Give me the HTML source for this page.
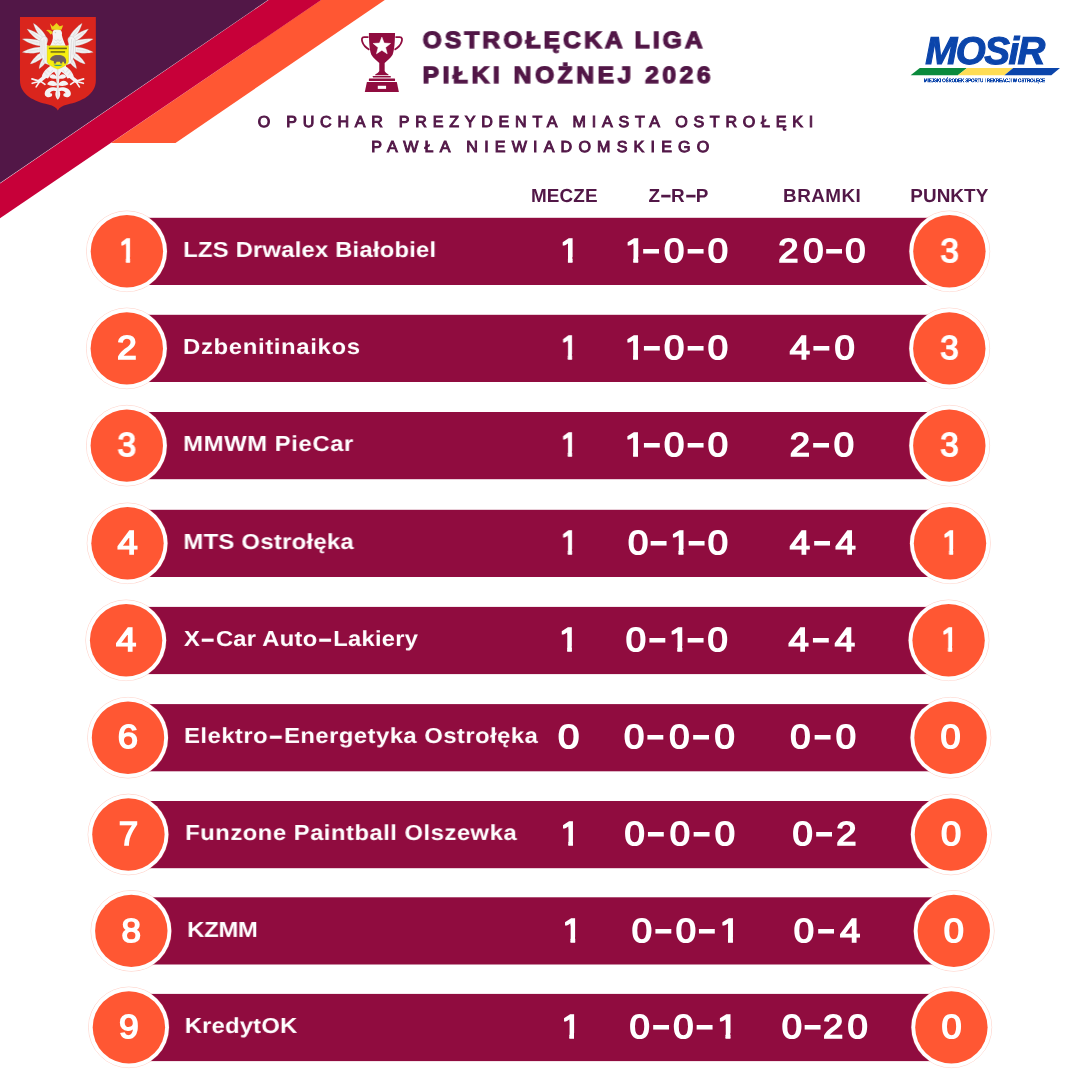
<!DOCTYPE html>
<html lang="pl">
<head>
<meta charset="utf-8">
<title>Ostrołęcka Liga Piłki Nożnej 2026 – tabela</title>
<style>
*{box-sizing:border-box;margin:0;padding:0}
html,body{width:1080px;height:1080px;background:#fff;overflow:hidden}
#page{position:relative;width:1080px;height:1080px;overflow:hidden;background:#fff;font-family:"Liberation Sans",sans-serif}
.corner{position:absolute;left:0;top:0;width:400px;height:230px}
.crest{position:absolute;left:10px;top:10px;width:100px;height:110px}
.trophy{position:absolute;left:350px;top:20px;width:70px;height:80px}
.stripe{position:absolute;left:905px;top:66px;width:160px;height:12px}
.t{position:absolute;white-space:nowrap;line-height:1;font-weight:700;color:#fff;transform-origin:0 0;will-change:transform;text-rendering:geometricPrecision}
.title,.sub,.hdr{color:#521747}
.title{-webkit-text-stroke:1.25px #521747}
.sub{font-weight:400;-webkit-text-stroke:.95px #521747}
.logo{color:#0B45AB;font-style:italic;-webkit-text-stroke:1.1px #0B45AB}
.small{font-style:normal;-webkit-text-stroke:1.1px #0B45AB}
.num,.rank,.pts{font-weight:400;-webkit-text-stroke:1.5px #fff}
.one{display:inline-block;margin-right:-.13em;clip-path:polygon(0 0,2em 0,2em .66em,.364em .66em,.364em 1.2em,.229em 1.2em,.229em .315em,0 .315em)}
.hy{display:inline-block;margin:0 .16em;transform:translateY(-.03em) scale(1.95,1.2)}
.d{display:inline-block;transform:translate(.02em,-.06em) scale(1.5,1.1)}
.rowbg{position:absolute;left:80px;width:920px;height:90px}
.bar{fill:#900C3F}
.halo{fill:none;stroke:#FF5733;stroke-width:.6;opacity:.4}
.ring{fill:#fff}
.disc{fill:#FF5733}
</style>
</head>
<body>
<div id="page">
<svg class="corner" viewBox="0 0 400 230" aria-hidden="true">
<polygon points="321,0 384.8,0 175.5,143 111,143" fill="#FF5733"/>
<polygon points="268.55,0 321.2,0 0,218.3 0,183.4" fill="#C70039"/>
<polygon points="0,0 268,0 0,183" fill="#521747"/>
</svg>
<svg class="crest" viewBox="10 10 100 110" aria-label="Herb Ostrołęki">
<path transform="translate(10 10) scale(.101833)" d="M98,68 H843 V690 C843,835 700,898 565,928 C512,940 482,962 470,986 C458,962 428,940 375,928 C240,898 98,835 98,690 Z" fill="#DA251D"/>
<g transform="translate(18 18) scale(.074074)">
<g fill="#F4F4F4">
<g stroke="#A8A8A8" stroke-width="3.5" stroke-linejoin="round"><path d="M378.5,255.3 C348.2,184.9 260.3,101.4 208.0,72.0 C220.9,130.6 275.0,239.1 333.5,288.7 Z"/><path d="M350.8,276.6 C297.7,216.4 183.3,161.0 122.0,148.0 C154.0,201.9 243.1,292.4 317.2,323.4 Z"/><path d="M325.1,319.3 C251.5,282.1 121.4,272.9 58.0,284.0 C109.0,323.2 228.5,375.5 310.9,376.7 Z"/><path d="M313.4,392.8 C232.5,386.8 111.2,428.4 58.0,463.0 C119.2,479.6 247.5,481.8 322.6,451.2 Z"/><path d="M320.8,463.9 C258.4,490.3 188.8,571.2 166.0,620.0 C218.9,609.8 314.4,562.1 355.2,508.1 Z"/><path d="M355.1,526.6 C314.4,561.5 286.0,640.6 284.0,684.0 C322.5,664.0 382.4,604.9 396.9,553.4 Z"/><path d="M402,300 C404,262 372,240 338,254 C298,272 288,322 298,380 L296,470 L356,610 L440,640 L440,380 L395,372 C380,350 400,330 402,300 Z"/></g>
<g stroke="#A8A8A8" stroke-width="3.5" stroke-linejoin="round" transform="translate(1074,0) scale(-1,1)"><path d="M378.5,255.3 C348.2,184.9 260.3,101.4 208.0,72.0 C220.9,130.6 275.0,239.1 333.5,288.7 Z"/><path d="M350.8,276.6 C297.7,216.4 183.3,161.0 122.0,148.0 C154.0,201.9 243.1,292.4 317.2,323.4 Z"/><path d="M325.1,319.3 C251.5,282.1 121.4,272.9 58.0,284.0 C109.0,323.2 228.5,375.5 310.9,376.7 Z"/><path d="M313.4,392.8 C232.5,386.8 111.2,428.4 58.0,463.0 C119.2,479.6 247.5,481.8 322.6,451.2 Z"/><path d="M320.8,463.9 C258.4,490.3 188.8,571.2 166.0,620.0 C218.9,609.8 314.4,562.1 355.2,508.1 Z"/><path d="M355.1,526.6 C314.4,561.5 286.0,640.6 284.0,684.0 C322.5,664.0 382.4,604.9 396.9,553.4 Z"/><path d="M402,300 C404,262 372,240 338,254 C298,272 288,322 298,380 L296,470 L356,610 L440,640 L440,380 L395,372 C380,350 400,330 402,300 Z"/></g>
<path d="M470,238 C452,190 478,148 526,148 C578,148 604,186 592,228 C600,272 622,322 648,382 L648,690 L428,690 L428,382 C455,332 478,284 470,238 Z"/>
<g stroke="#F4F4F4" fill="none"><path d="M452,648 C400,662 338,720 320,792 L406,818 C432,762 482,722 532,702 Z" fill="#F4F4F4" stroke="none"/><path d="M364,792 L288,852" stroke-width="50" stroke-linecap="round"/><path d="M288,852 L188,822 M284,858 L192,882 M290,860 L245,930 M302,852 L364,896" stroke-width="22" stroke-linecap="round"/></g>
<g stroke="#F4F4F4" fill="none" transform="translate(1074,0) scale(-1,1)"><path d="M452,648 C400,662 338,720 320,792 L406,818 C432,762 482,722 532,702 Z" fill="#F4F4F4" stroke="none"/><path d="M364,792 L288,852" stroke-width="50" stroke-linecap="round"/><path d="M288,852 L188,822 M284,858 L192,882 M290,860 L245,930 M302,852 L364,896" stroke-width="22" stroke-linecap="round"/></g>
<path d="M537,680 C566,740 562,810 552,880 C548,940 562,1040 537,1098 C512,1040 526,940 522,880 C512,810 508,740 537,680 Z"/>
<path d="M537,952 C584,998 578,1064 537,1104 C496,1064 490,998 537,952 Z"/><path d="M440,640 H634 L566,760 L537,800 L508,760 Z"/>
<g><path d="M537,812 C500,742 438,745 424,796 C460,828 510,826 537,812 Z"/><path d="M537,906 C490,822 414,840 394,896 C445,928 500,922 537,906 Z"/><path d="M528,944 C468,924 378,944 362,1008 C350,1058 408,1086 448,1060 C476,1042 458,1006 432,1016 C440,982 482,972 528,992 Z"/></g>
<g transform="translate(1074,0) scale(-1,1)"><path d="M537,812 C500,742 438,745 424,796 C460,828 510,826 537,812 Z"/><path d="M537,906 C490,822 414,840 394,896 C445,928 500,922 537,906 Z"/><path d="M528,944 C468,924 378,944 362,1008 C350,1058 408,1086 448,1060 C476,1042 458,1006 432,1016 C440,982 482,972 528,992 Z"/></g>
</g>
<g stroke="#8E8E8E" stroke-width="4.5" fill="none" opacity=".7">
<g><path d="M334,242 L249,128"/><path d="M302,277 L181,191"/><path d="M279,338 L131,302"/><path d="M279,428 L131,452"/><path d="M312,506 L214,582"/><path d="M362,562 L310,644"/><path d="M318,300 L330,500 M350,285 L366,560 M372,262 C392,270 396,300 384,322"/><path d="M352,720 L395,770 M380,690 L425,735"/></g>
<g transform="translate(1074,0) scale(-1,1)"><path d="M334,242 L249,128"/><path d="M302,277 L181,191"/><path d="M279,338 L131,302"/><path d="M279,428 L131,452"/><path d="M312,506 L214,582"/><path d="M362,562 L310,644"/><path d="M318,300 L330,500 M350,285 L366,560 M372,262 C392,270 396,300 384,322"/><path d="M352,720 L395,770 M380,690 L425,735"/></g>
<path d="M490,290 l24,20 l24,-20 l24,20 l24,-20 M478,330 l30,22 l30,-22 l30,22 l30,-22 M537,700 V1085 M470,700 L440,740 M604,700 L634,740"/>
<circle cx="505" cy="196" r="5" fill="#8E8E8E"/>
</g>
<path d="M430,72 L470,116 L520,68 L562,112 L610,100 L586,160 L456,160 Z" fill="#EBD51C"/>
<path d="M468,190 C440,160 405,150 378,165 C405,176 425,196 440,224 C455,218 465,205 468,190 Z" fill="#EBD51C"/>
<path d="M393,376 H682 V588 C682,625 610,660 537,692 C464,660 393,625 393,588 Z" fill="#F8EE0E" stroke="#BDB31B" stroke-width="5"/>
<rect x="416" y="400" width="244" height="21" fill="#4F4A1C" opacity=".85"/>
<rect x="440" y="448" width="196" height="20" fill="#4F4A1C" opacity=".85"/>
<path d="M432,560 C440,525 480,500 530,500 C590,495 645,520 650,570 L648,616 L625,616 L618,590 L600,590 L596,616 L572,616 L566,592 L520,592 L512,616 L485,616 L482,580 C465,574 445,574 432,560 Z" fill="#6F5F5E"/>
<path d="M478,632 H602 C588,656 492,656 478,632 Z" fill="#2E9A86"/>
</g>
</svg>
<header>
<svg class="trophy" viewBox="0 0 945 1080" aria-label="puchar">
<g fill="#900C3F">
<path d="M255,175 H608 C606,300 600,400 575,470 C550,520 490,555 468,582 V690 C475,712 500,722 520,735 V746 H340 V735 C360,722 388,712 395,690 V582 C373,555 313,520 288,470 C263,400 257,300 255,175 Z"/>
<rect x="310" y="755" width="240" height="21" rx="3"/>
<rect x="255" y="790" width="353" height="35" rx="5"/>
<path d="M228,838 H632 L660,972 H200 Z"/>
</g>
<g fill="none" stroke="#900C3F" stroke-width="24">
<path d="M250,230 H190 C158,230 156,262 166,295 C180,342 218,378 262,402"/>
<path d="M613,230 H673 C705,230 707,262 697,295 C683,342 645,378 601,402"/>
</g>
<path d="M430,232 L461,312 L547,317 L480,371 L502,455 L430,408 L358,455 L380,371 L313,317 L399,312 Z" fill="#fff" stroke="#fff" stroke-width="8" stroke-linejoin="round"/>
<rect x="375" y="888" width="112" height="42" fill="#fff"/>
</svg>
<div class="t title" style="left:422px;top:29.01px;font-size:23.47px;letter-spacing:2.91px;transform:translateX(0.65px) scale(1.050,0.992);">OSTROŁĘCKA LIGA</div>
<div class="t title" style="left:422px;top:64.06px;font-size:23.47px;letter-spacing:3.37px;transform:translateX(0.58px) scale(1.050,0.992);">PIŁKI NOŻNEJ 2026</div>
<div class="t sub" style="left:257px;top:115.03px;font-size:15.77px;letter-spacing:5.64px;transform:translateX(0.7px) scale(1.020,1.005);">O PUCHAR PREZYDENTA MIASTA OSTROŁĘKI</div>
<div class="t sub" style="left:371px;top:139.96px;font-size:15.77px;letter-spacing:6.06px;transform:translateX(0.17px) scale(1.020,1.005);">PAWŁA NIEWIADOMSKIEGO</div>
<div class="mosir">
<div class="t logo" style="left:925px;top:32.95px;font-size:38.52px;letter-spacing:-1.54px;transform:translateX(0.32px) scale(1.000,1.004);">MOSiR</div>
<div class="t logo small" style="left:923px;top:77.86px;font-size:21.51px;letter-spacing:-0.61px;transform:translateX(0.92px) scale(0.210,0.250);">MIEJSKI OŚRODEK SPORTU I REKREACJI W OSTROŁĘCE</div>
<svg class="stripe" viewBox="905 66 160 12" aria-hidden="true">
<polygon points="910.6,75.3 919.8,68 967,68 957.8,75.3" fill="#0A8A3C"/>
<polygon points="957.8,75.3 967,68 1013.2,68 1004.4,75.3" fill="#FFDD55"/>
<polygon points="1004.4,75.3 1013.2,68 1060,68 1051.3,75.3" fill="#0B45AB"/>
</svg>
</div>
</header>
<main>
<div class="thead">
<div class="t hdr" style="left:530px;top:187.96px;font-size:18.9px;letter-spacing:0.12px;transform:translateX(0.94px) scale(1.000,1.000);">MECZE</div>
<div class="t hdr" style="left:648px;top:187.96px;font-size:18.9px;letter-spacing:-0.61px;transform:translateX(0.43px) scale(1.000,1.000);">Z<span class="hy">-</span>R<span class="hy">-</span>P</div>
<div class="t hdr" style="left:783px;top:187.96px;font-size:18.9px;letter-spacing:0.43px;transform:translateX(0.1px) scale(1.000,1.000);">BRAMKI</div>
<div class="t hdr" style="left:910px;top:187.96px;font-size:18.9px;letter-spacing:0.07px;transform:translateX(0.26px) scale(1.000,1.000);">PUNKTY</div>
</div>
<section class="row">
<svg class="rowbg" style="top:206px" viewBox="80 206 920 90" aria-hidden="true"><rect class="bar" x="126.9" y="217.8" width="822.5" height="67.2"/><circle class="halo" cx="126.9" cy="251.3" r="40.3"/><circle class="ring" cx="126.9" cy="251.3" r="40.1"/><circle class="disc" cx="126.9" cy="251.3" r="36.2"/><circle class="halo" cx="949.4" cy="251.3" r="40.3"/><circle class="ring" cx="949.4" cy="251.3" r="40.1"/><circle class="disc" cx="949.4" cy="251.3" r="36.2"/></svg>
<div class="t rank" style="left:119px;top:235.03px;font-size:33.43px;transform:translateX(0.17px) scale(0.886,1.001);"><span class="one">1</span></div>
<div class="t name" style="left:183px;top:239.06px;font-size:21.66px;letter-spacing:0.18px;transform:translateX(0.19px) scale(1.100,0.993);">LZS Drwalex Białobiel</div>
<div class="t num" style="left:560px;top:235.03px;font-size:33.43px;transform:translateX(0.16px) scale(1.016,1.001);"><span class="one">1</span></div>
<div class="t num" style="left:624px;top:235.03px;font-size:33.43px;letter-spacing:5.24px;transform:translateX(0.93px) scale(1.090,1.001);"><span class="one">1</span><span class="d">-</span>0<span class="d">-</span>0</div>
<div class="t num" style="left:778px;top:235.03px;font-size:33.43px;letter-spacing:4.37px;transform:translateX(0.24px) scale(1.090,1.001);">20<span class="d">-</span>0</div>
<div class="t pts" style="left:940px;top:235.03px;font-size:33.43px;transform:translateX(0.45px) scale(0.989,1.001);">3</div>
</section>
<section class="row">
<svg class="rowbg" style="top:303px" viewBox="80 303 920 90" aria-hidden="true"><rect class="bar" x="126.8" y="314.8" width="822.5" height="67.2"/><circle class="halo" cx="126.8" cy="348.4" r="40.3"/><circle class="ring" cx="126.8" cy="348.4" r="40.1"/><circle class="disc" cx="126.8" cy="348.4" r="36.2"/><circle class="halo" cx="949.3" cy="348.4" r="40.3"/><circle class="ring" cx="949.3" cy="348.4" r="40.1"/><circle class="disc" cx="949.3" cy="348.4" r="36.2"/></svg>
<div class="t rank" style="left:116px;top:332.01px;font-size:33.43px;transform:translateX(0.95px) scale(1.063,1.001);">2</div>
<div class="t name" style="left:183px;top:336.03px;font-size:21.66px;letter-spacing:0.62px;transform:translateX(0.02px) scale(1.100,0.993);">Dzbenitinaikos</div>
<div class="t num" style="left:560px;top:332.01px;font-size:33.43px;transform:translateX(0.81px) scale(0.919,1.001);"><span class="one">1</span></div>
<div class="t num" style="left:624px;top:332.01px;font-size:33.43px;letter-spacing:5.25px;transform:translateX(0.77px) scale(1.090,1.001);"><span class="one">1</span><span class="d">-</span>0<span class="d">-</span>0</div>
<div class="t num" style="left:789px;top:332.01px;font-size:33.43px;letter-spacing:5.64px;transform:translateX(0.82px) scale(1.090,1.001);">4<span class="d">-</span>0</div>
<div class="t pts" style="left:940px;top:332.01px;font-size:33.43px;transform:translateX(0.3px) scale(0.988,1.001);">3</div>
</section>
<section class="row">
<svg class="rowbg" style="top:400px" viewBox="80 400 920 90" aria-hidden="true"><rect class="bar" x="126.8" y="412" width="822.5" height="67.2"/><circle class="halo" cx="126.8" cy="445.65" r="40.3"/><circle class="ring" cx="126.8" cy="445.65" r="40.1"/><circle class="disc" cx="126.8" cy="445.65" r="36.2"/><circle class="halo" cx="949.3" cy="445.65" r="40.3"/><circle class="ring" cx="949.3" cy="445.65" r="40.1"/><circle class="disc" cx="949.3" cy="445.65" r="36.2"/></svg>
<div class="t rank" style="left:117px;top:429.01px;font-size:33.43px;transform:translateX(0.52px) scale(0.999,1.001);">3</div>
<div class="t name" style="left:183px;top:433.03px;font-size:21.66px;letter-spacing:0.54px;transform:translateX(0.19px) scale(1.100,0.993);">MMWM PieCar</div>
<div class="t num" style="left:560px;top:429.01px;font-size:33.43px;transform:translateX(0.81px) scale(0.919,1.001);"><span class="one">1</span></div>
<div class="t num" style="left:624px;top:429.01px;font-size:33.43px;letter-spacing:5.25px;transform:translateX(0.77px) scale(1.090,1.001);"><span class="one">1</span><span class="d">-</span>0<span class="d">-</span>0</div>
<div class="t num" style="left:789px;top:429.01px;font-size:33.43px;letter-spacing:5.39px;transform:translateX(0.69px) scale(1.090,1.001);">2<span class="d">-</span>0</div>
<div class="t pts" style="left:940px;top:429.01px;font-size:33.43px;transform:translateX(0.3px) scale(0.988,1.001);">3</div>
</section>
<section class="row">
<svg class="rowbg" style="top:498px" viewBox="80 498 920 90" aria-hidden="true"><rect class="bar" x="127.5" y="509.8" width="822.5" height="67.2"/><circle class="halo" cx="127.5" cy="543.3" r="40.3"/><circle class="ring" cx="127.5" cy="543.3" r="40.1"/><circle class="disc" cx="127.5" cy="543.3" r="36.2"/><circle class="halo" cx="950" cy="543.3" r="40.3"/><circle class="ring" cx="950" cy="543.3" r="40.1"/><circle class="disc" cx="950" cy="543.3" r="36.2"/></svg>
<div class="t rank" style="left:117px;top:527.03px;font-size:33.43px;transform:translateX(0.44px) scale(1.089,1.001);">4</div>
<div class="t name" style="left:183px;top:531.06px;font-size:21.66px;letter-spacing:0.27px;transform:translateX(0.43px) scale(1.100,0.993);">MTS Ostrołęka</div>
<div class="t num" style="left:560px;top:527.03px;font-size:33.43px;transform:translateX(0.81px) scale(0.919,1.001);"><span class="one">1</span></div>
<div class="t num" style="left:627px;top:527.03px;font-size:33.43px;letter-spacing:4.53px;transform:translateX(0.89px) scale(1.090,1.001);">0<span class="d">-</span><span class="one">1</span><span class="d">-</span>0</div>
<div class="t num" style="left:789px;top:527.03px;font-size:33.43px;letter-spacing:6.08px;transform:translateX(0.82px) scale(1.090,1.001);">4<span class="d">-</span>4</div>
<div class="t pts" style="left:942px;top:527.03px;font-size:33.43px;transform:translateX(0.29px) scale(0.890,1.001);"><span class="one">1</span></div>
</section>
<section class="row">
<svg class="rowbg" style="top:595px" viewBox="80 595 920 90" aria-hidden="true"><rect class="bar" x="126.1" y="606.9" width="822.5" height="67.2"/><circle class="halo" cx="126.1" cy="640.3" r="40.3"/><circle class="ring" cx="126.1" cy="640.3" r="40.1"/><circle class="disc" cx="126.1" cy="640.3" r="36.2"/><circle class="halo" cx="948.6" cy="640.3" r="40.3"/><circle class="ring" cx="948.6" cy="640.3" r="40.1"/><circle class="disc" cx="948.6" cy="640.3" r="36.2"/></svg>
<div class="t rank" style="left:116px;top:624.03px;font-size:33.43px;transform:translateX(0.12px) scale(1.093,1.001);">4</div>
<div class="t name" style="left:183px;top:628.06px;font-size:21.66px;letter-spacing:0.21px;transform:translateX(0.92px) scale(1.100,0.993);">X<span class="hy">-</span>Car Auto<span class="hy">-</span>Lakiery</div>
<div class="t num" style="left:559px;top:624.03px;font-size:33.43px;transform:translateX(0.27px) scale(1.035,1.001);"><span class="one">1</span></div>
<div class="t num" style="left:625px;top:624.03px;font-size:33.43px;letter-spacing:4.93px;transform:translateX(0.83px) scale(1.090,1.001);">0<span class="d">-</span><span class="one">1</span><span class="d">-</span>0</div>
<div class="t num" style="left:788px;top:624.03px;font-size:33.43px;letter-spacing:6.3px;transform:translateX(0.54px) scale(1.090,1.001);">4<span class="d">-</span>4</div>
<div class="t pts" style="left:941px;top:624.03px;font-size:33.43px;transform:translateX(0.13px) scale(0.903,1.001);"><span class="one">1</span></div>
</section>
<section class="row">
<svg class="rowbg" style="top:692px" viewBox="80 692 920 90" aria-hidden="true"><rect class="bar" x="128" y="704.1" width="822.5" height="67.2"/><circle class="halo" cx="128" cy="737.7" r="40.3"/><circle class="ring" cx="128" cy="737.7" r="40.1"/><circle class="disc" cx="128" cy="737.7" r="36.2"/><circle class="halo" cx="950.5" cy="737.7" r="40.3"/><circle class="ring" cx="950.5" cy="737.7" r="40.1"/><circle class="disc" cx="950.5" cy="737.7" r="36.2"/></svg>
<div class="t rank" style="left:117px;top:720.93px;font-size:33.43px;transform:translateX(0.69px) scale(1.088,1.001);">6</div>
<div class="t name" style="left:184px;top:724.96px;font-size:21.66px;letter-spacing:0.42px;transform:translateX(0.12px) scale(1.100,0.993);">Elektro<span class="hy">-</span>Energetyka Ostrołęka</div>
<div class="t num" style="left:558px;top:720.93px;font-size:33.43px;transform:translateX(0px) scale(1.148,1.001);">0</div>
<div class="t num" style="left:623px;top:720.93px;font-size:33.43px;letter-spacing:5.89px;transform:translateX(0.89px) scale(1.090,1.001);">0<span class="d">-</span>0<span class="d">-</span>0</div>
<div class="t num" style="left:790px;top:720.93px;font-size:33.43px;letter-spacing:6.08px;transform:translateX(0.19px) scale(1.090,1.001);">0<span class="d">-</span>0</div>
<div class="t pts" style="left:940px;top:720.93px;font-size:33.43px;transform:translateX(0.39px) scale(1.083,1.001);">0</div>
</section>
<section class="row">
<svg class="rowbg" style="top:789px" viewBox="80 789 920 90" aria-hidden="true"><rect class="bar" x="128.4" y="801" width="822.5" height="67.2"/><circle class="halo" cx="128.4" cy="834.5" r="40.3"/><circle class="ring" cx="128.4" cy="834.5" r="40.1"/><circle class="disc" cx="128.4" cy="834.5" r="36.2"/><circle class="halo" cx="950.9" cy="834.5" r="40.3"/><circle class="ring" cx="950.9" cy="834.5" r="40.1"/><circle class="disc" cx="950.9" cy="834.5" r="36.2"/></svg>
<div class="t rank" style="left:118px;top:817.98px;font-size:33.43px;transform:translateX(0.8px) scale(1.044,1.001);">7</div>
<div class="t name" style="left:185px;top:822.01px;font-size:21.66px;letter-spacing:0.45px;transform:translateX(0.19px) scale(1.100,0.993);">Funzone Paintball Olszewka</div>
<div class="t num" style="left:560px;top:817.98px;font-size:33.43px;transform:translateX(0.47px) scale(1.026,1.001);"><span class="one">1</span></div>
<div class="t num" style="left:624px;top:817.98px;font-size:33.43px;letter-spacing:5.82px;transform:translateX(0.56px) scale(1.090,1.001);">0<span class="d">-</span>0<span class="d">-</span>0</div>
<div class="t num" style="left:792px;top:817.98px;font-size:33.43px;letter-spacing:5.2px;transform:translateX(0.56px) scale(1.090,1.001);">0<span class="d">-</span>2</div>
<div class="t pts" style="left:940px;top:817.98px;font-size:33.43px;transform:translateX(0.92px) scale(1.086,1.001);">0</div>
</section>
<section class="row">
<svg class="rowbg" style="top:885px" viewBox="80 885 920 90" aria-hidden="true"><rect class="bar" x="131.3" y="897.3" width="822.5" height="67.2"/><circle class="halo" cx="131.3" cy="930.9" r="40.3"/><circle class="ring" cx="131.3" cy="930.9" r="40.1"/><circle class="disc" cx="131.3" cy="930.9" r="36.2"/><circle class="halo" cx="953.8" cy="930.9" r="40.3"/><circle class="ring" cx="953.8" cy="930.9" r="40.1"/><circle class="disc" cx="953.8" cy="930.9" r="36.2"/></svg>
<div class="t rank" style="left:121px;top:915.01px;font-size:33.43px;transform:translateX(0.59px) scale(1.048,1.001);">8</div>
<div class="t name" style="left:187px;top:919.03px;font-size:21.66px;letter-spacing:-0.26px;transform:translateX(0.19px) scale(1.100,0.993);">KZMM</div>
<div class="t num" style="left:562px;top:915.01px;font-size:33.43px;transform:translateX(0.55px) scale(1.037,1.001);"><span class="one">1</span></div>
<div class="t num" style="left:631px;top:915.01px;font-size:33.43px;letter-spacing:5.28px;transform:translateX(0.83px) scale(1.090,1.001);">0<span class="d">-</span>0<span class="d">-</span><span class="one">1</span></div>
<div class="t num" style="left:793px;top:915.01px;font-size:33.43px;letter-spacing:6.37px;transform:translateX(0.83px) scale(1.090,1.001);">0<span class="d">-</span>4</div>
<div class="t pts" style="left:943px;top:915.01px;font-size:33.43px;transform:translateX(0.76px) scale(1.083,1.001);">0</div>
</section>
<section class="row">
<svg class="rowbg" style="top:982px" viewBox="80 982 920 90" aria-hidden="true"><rect class="bar" x="128.9" y="993.9" width="822.5" height="67.2"/><circle class="halo" cx="128.9" cy="1027.35" r="40.3"/><circle class="ring" cx="128.9" cy="1027.35" r="40.1"/><circle class="disc" cx="128.9" cy="1027.35" r="36.2"/><circle class="halo" cx="951.4" cy="1027.35" r="40.3"/><circle class="ring" cx="951.4" cy="1027.35" r="40.1"/><circle class="disc" cx="951.4" cy="1027.35" r="36.2"/></svg>
<div class="t rank" style="left:119px;top:1010.96px;font-size:33.43px;transform:translateX(0.09px) scale(1.062,1.001);">9</div>
<div class="t name" style="left:184px;top:1014.98px;font-size:21.66px;letter-spacing:0.15px;transform:translateX(0.81px) scale(1.100,0.993);">KredytOK</div>
<div class="t num" style="left:561px;top:1010.96px;font-size:33.43px;transform:translateX(0.38px) scale(1.038,1.001);"><span class="one">1</span></div>
<div class="t num" style="left:629px;top:1010.96px;font-size:33.43px;letter-spacing:5.23px;transform:translateX(0.52px) scale(1.090,1.001);">0<span class="d">-</span>0<span class="d">-</span><span class="one">1</span></div>
<div class="t num" style="left:781px;top:1010.96px;font-size:33.43px;letter-spacing:3.99px;transform:translateX(0.83px) scale(1.090,1.001);">0<span class="d">-</span>20</div>
<div class="t pts" style="left:941px;top:1010.96px;font-size:33.43px;transform:translateX(0.43px) scale(1.084,1.001);">0</div>
</section>
</main>
</div>
</body>
</html>
